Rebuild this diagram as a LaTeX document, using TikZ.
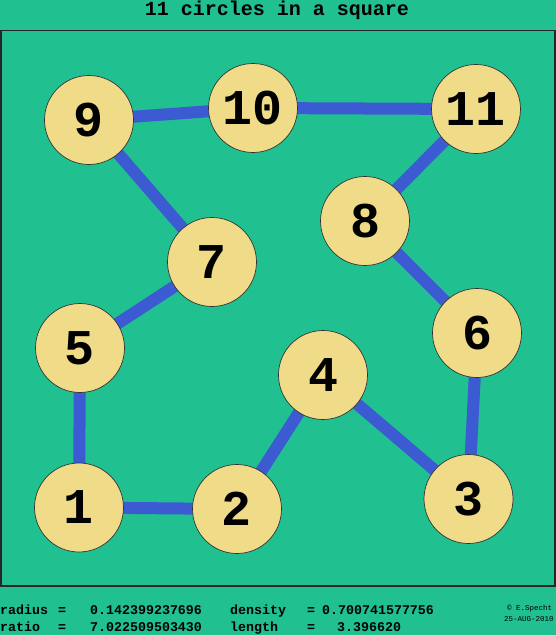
\documentclass[tikz,border=0pt]{standalone}
\usepackage{fontspec}
\setmonofont{Liberation Mono}
\usetikzlibrary{backgrounds}
\definecolor{sqgreen}{RGB}{32,192,144}
\definecolor{discyellow}{RGB}{240,220,136}
\definecolor{linkblue}{RGB}{60,90,210}
\tikzset{
      disc/.style={
        circle,
        draw=black!80,
        line width=0.7pt,
        fill=discyellow,
        minimum size=89pt,
        inner sep=0pt,
        font=\ttfamily\bfseries\fontsize{50}{50}\selectfont
      },
      link/.style={line width=12pt, draw=linkblue},
      info/.style={anchor=base west, inner sep=0pt,
        font=\ttfamily\bfseries\fontsize{13.3}{14}\selectfont},
      stamp/.style={anchor=base west, inner sep=0pt,
        font=\ttfamily\fontsize{7.5}{8}\selectfont}
    }
\begin{document}
\begin{tikzpicture}[x=1pt,y=-1pt]
    \useasboundingbox (0,0) rectangle (556,635);
    \node[anchor=base, inner sep=0pt, font=\ttfamily\bfseries\fontsize{20}{20}\selectfont] (title) at (277,15) {11 circles in a square};
    \draw[line width=1.5pt, black!85] (0.75,30.5) rectangle (555,586);
    \node[disc] (c1) at (79,507.5) {1};
    \node[disc] (c2) at (237,509) {2};
    \node[disc] (c3) at (468.5,499) {3};
    \node[disc] (c4) at (323,375) {4};
    \node[disc] (c5) at (80,348) {5};
    \node[disc] (c6) at (477,333) {6};
    \node[disc] (c7) at (212,262) {7};
    \node[disc] (c8) at (365,221) {8};
    \node[disc] (c9) at (89,120) {9};
    \node[disc] (c10) at (253,108) {10};
    \node[disc] (c11) at (476,109) {11};
    \begin{pgfonlayer}{background}
    \fill[sqgreen] (0,0) rectangle (556,635);
    \draw[link] (c9.center) -- (c10.center) -- (c11.center) -- (c8.center) -- (c6.center) -- (c3.center)
      -- (c4.center) -- (c2.center) -- (c1.center) -- (c5.center) -- (c7.center) -- (c9.center);
    \end{pgfonlayer}
    % figures under the square
    \node[info] (rl) at (0,614) {radius};
    \node[info] (re) at (58,614) {=};
    \node[info] (rv) at (90,614) {0.142399237696};
    \node[info] (dl) at (230,614) {density};
    \node[info] (de) at (307,614) {=};
    \node[info] (dv) at (322,614) {0.700741577756};
    \node[info] (ql) at (0,631) {ratio};
    \node[info] (qe) at (58,631) {=};
    \node[info] (qv) at (90,631) {7.022509503430};
    \node[info] (ll) at (230,631) {length};
    \node[info] (le) at (307,631) {=};
    \node[info] (lv) at (337,631) {3.396620};
    \node[stamp] (cr) at (507,610) {\textcopyright{} E.\textsc{Specht}};
    \node[stamp] (dt) at (504,621) {25-AUG-2010};
\end{tikzpicture}
\end{document}
